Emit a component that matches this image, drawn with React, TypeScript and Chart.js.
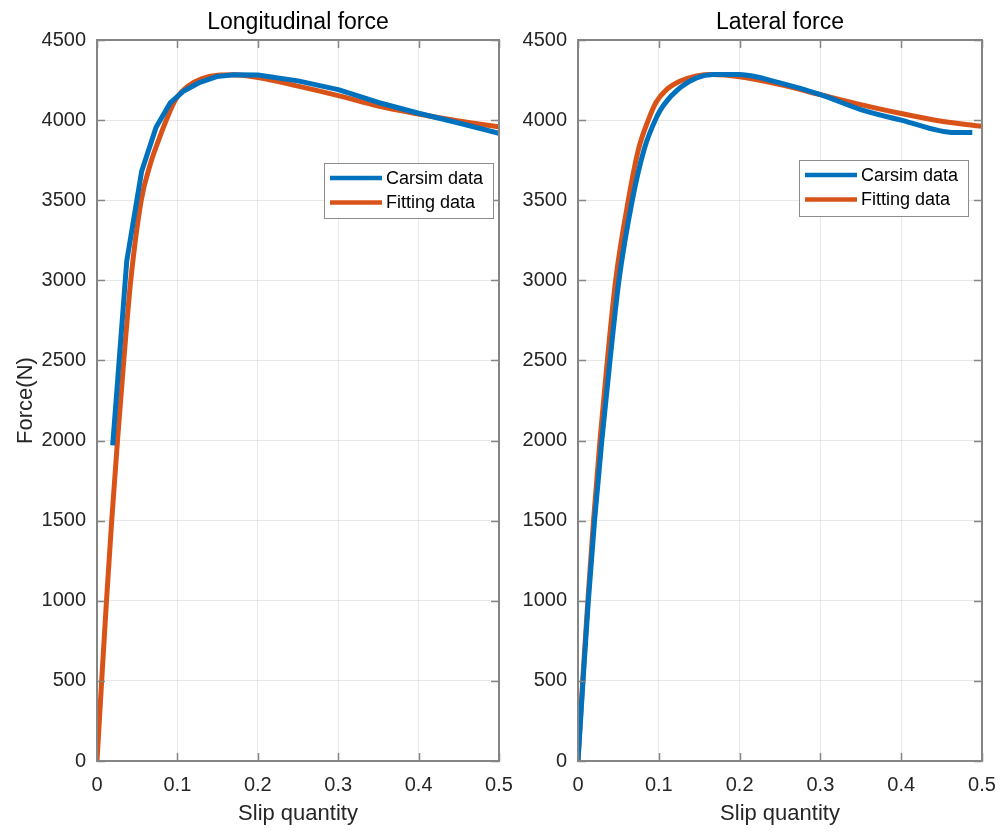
import React, { useEffect, useRef } from "react";
import { Chart, registerables } from "chart.js";

Chart.register(...registerables);

// Axis tick labels
const xTickLabels = ["0", "0.1", "0.2", "0.3", "0.4", "0.5"];
const yTickLabels = ["0", "500", "1000", "1500", "2000", "2500", "3000", "3500", "4000", "4500"];

// Longitudinal force: Carsim samples
const lonCarsimSlip = [0.0195, 0.037, 0.0555, 0.0735, 0.091, 0.108, 0.128, 0.149, 0.17, 0.2, 0.25, 0.3, 0.35, 0.4, 0.45, 0.5];
const lonCarsimForce = [1970, 3120, 3680, 3955, 4107, 4182, 4236, 4272, 4283, 4282, 4245, 4190, 4110, 4043, 3982, 3917];

// Longitudinal force: fitted curve
const lonFitSlip = [0, 0.0058, 0.0118, 0.0183, 0.0255, 0.0333, 0.042, 0.055, 0.066, 0.077, 0.087, 0.098, 0.114, 0.13, 0.15, 0.17, 0.2, 0.25, 0.3, 0.35, 0.4, 0.45, 0.5];
const lonFitForce = [0, 500, 1000, 1500, 2000, 2500, 3000, 3500, 3720, 3880, 4010, 4130, 4215, 4258, 4280, 4283, 4265, 4212, 4153, 4088, 4038, 3994, 3957];

// Lateral force: Carsim samples
const latCarsimSlip = [0, 0.0062, 0.0128, 0.0205, 0.0295, 0.0396, 0.0507, 0.0672, 0.082, 0.0974, 0.1054, 0.126, 0.1467, 0.167, 0.2, 0.25, 0.3, 0.35, 0.4, 0.466, 0.488];
const latCarsimForce = [0, 500, 1000, 1500, 2000, 2500, 3000, 3500, 3820, 4020, 4090, 4201, 4264, 4285, 4284, 4232, 4159, 4066, 4000, 3922, 3922];

// Lateral force: fitted curve
const latFitSlip = [0, 0.0058, 0.0122, 0.0192, 0.0272, 0.0363, 0.0466, 0.0623, 0.075, 0.087, 0.0965, 0.1096, 0.126, 0.1467, 0.167, 0.2, 0.25, 0.3, 0.35, 0.4, 0.45, 0.5];
const latFitForce = [0, 500, 1000, 1500, 2000, 2500, 3000, 3500, 3820, 4000, 4110, 4190, 4242, 4276, 4285, 4270, 4222, 4159, 4097, 4041, 3993, 3961];

const seriesNames = ["Carsim data", "Fitting data"];
const BLUE = "#0072BD";
const ORANGE = "#D95319";
const FONT = "'Liberation Sans', Arial, Helvetica, sans-serif";
const AXIS_COLOR = "#858585";

const toPoints = (xs: number[], ys: number[]) => xs.map((x, i) => ({ x, y: ys[i] }));

// MATLAB-style box with inward tick marks on all four sides
const framePlugin = {
  id: "frameBox",
  afterDatasetsDraw(chart: any) {
    const { ctx, chartArea, scales } = chart;
    const { left, right, top, bottom } = chartArea;
    const len = 8;
    ctx.save();
    ctx.strokeStyle = AXIS_COLOR;
    ctx.lineWidth = 1.5;
    ctx.beginPath();
    scales.x.ticks.forEach((t: any) => {
      const px = Math.round(scales.x.getPixelForValue(t.value)) + 0.5;
      ctx.moveTo(px, bottom);
      ctx.lineTo(px, bottom - len);
      ctx.moveTo(px, top);
      ctx.lineTo(px, top + len);
    });
    scales.y.ticks.forEach((t: any) => {
      const py = Math.round(scales.y.getPixelForValue(t.value)) + 0.5;
      ctx.moveTo(left, py);
      ctx.lineTo(left + len, py);
      ctx.moveTo(right, py);
      ctx.lineTo(right - len, py);
    });
    ctx.stroke();
    ctx.lineWidth = 2;
    ctx.strokeRect(left, top, right - left, bottom - top);
    ctx.restore();
  },
};

// Boxed legend placed inside the plot area
const boxLegendPlugin = {
  id: "boxLegend",
  afterDraw(chart: any, _args: any, opts: any) {
    const { ctx, chartArea } = chart;
    const bx = chartArea.right - opts.right - opts.width;
    const by = chartArea.top + opts.top;
    ctx.save();
    ctx.fillStyle = "#ffffff";
    ctx.fillRect(bx, by, opts.width, opts.height);
    ctx.strokeStyle = "#8c8c8c";
    ctx.lineWidth = 1;
    ctx.strokeRect(bx + 0.5, by + 0.5, opts.width, opts.height);
    ctx.font = `18px ${FONT}`;
    ctx.textBaseline = "middle";
    ctx.textAlign = "left";
    chart.data.datasets.forEach((ds: any, i: number) => {
      const rowY = by + 15 + i * 24.5;
      ctx.strokeStyle = ds.borderColor;
      ctx.lineWidth = 4.5;
      ctx.beginPath();
      ctx.moveTo(bx + 6, rowY);
      ctx.lineTo(bx + 58, rowY);
      ctx.stroke();
      ctx.fillStyle = "#000000";
      ctx.fillText(ds.label, bx + 62, rowY + 1);
    });
    ctx.restore();
  },
};

type PanelProps = {
  title: string;
  carsim: { x: number; y: number }[];
  fit: { x: number; y: number }[];
  carsimSmooth: boolean;
  yAxisWidth: number;
  yTitle?: string;
  padRight: number;
  legend: { right: number; top: number; width: number; height: number };
  width: number;
  left: number;
};

function Panel(props: PanelProps) {
  const ref = useRef<HTMLCanvasElement | null>(null);
  useEffect(() => {
    if (!ref.current) return;
    const chart = new Chart(ref.current, {
      type: "line",
      data: {
        datasets: [
          {
            label: seriesNames[0],
            data: props.carsim,
            borderColor: BLUE,
            backgroundColor: BLUE,
            borderWidth: 5,
            pointRadius: 0,
            cubicInterpolationMode: props.carsimSmooth ? "monotone" : "default",
            tension: 0,
            borderJoinStyle: "round",
          },
          {
            label: seriesNames[1],
            data: props.fit,
            borderColor: ORANGE,
            backgroundColor: ORANGE,
            borderWidth: 5,
            pointRadius: 0,
            cubicInterpolationMode: "monotone",
            borderJoinStyle: "round",
          },
        ],
      },
      options: {
        animation: false,
        responsive: false,
        devicePixelRatio: 1,
        layout: { padding: { left: 0, right: props.padRight, top: 0, bottom: 0 } },
        plugins: {
          legend: { display: false },
          tooltip: { enabled: false },
          title: {
            display: true,
            fullSize: false,
            text: props.title,
            color: "#000000",
            font: { family: FONT, size: 23, weight: "normal" },
            padding: { top: 9.2, bottom: 3.2 },
          },
          boxLegend: props.legend,
        } as any,
        scales: {
          x: {
            type: "linear",
            min: 0,
            max: 0.5,
            afterFit: (scale: any) => {
              scale.height = 71;
            },
            ticks: {
              stepSize: 0.1,
              maxRotation: 0,
              autoSkip: false,
              color: "#262626",
              font: { family: FONT, size: 20 },
              padding: 12,
              callback: (_v: any, i: number) => xTickLabels[i],
            },
            grid: { color: "rgba(0,0,0,0.09)", lineWidth: 1, drawTicks: false },
            border: { display: false },
            title: {
              display: true,
              text: "Slip quantity",
              color: "#262626",
              font: { family: FONT, size: 22 },
              padding: { top: 0, bottom: 5 },
            },
          },
          y: {
            type: "linear",
            min: 0,
            max: 4500,
            afterFit: (scale: any) => {
              scale.width = props.yAxisWidth;
            },
            ticks: {
              stepSize: 500,
              autoSkip: false,
              color: "#262626",
              font: { family: FONT, size: 20 },
              padding: 11,
              callback: (_v: any, i: number) => yTickLabels[i],
            },
            grid: { color: "rgba(0,0,0,0.09)", lineWidth: 1, drawTicks: false },
            border: { display: false },
            title: {
              display: !!props.yTitle,
              text: props.yTitle || "",
              color: "#262626",
              font: { family: FONT, size: 22 },
              padding: { top: 13, bottom: 0 },
            },
          },
        },
      } as any,
      plugins: [framePlugin, boxLegendPlugin],
    });
    return () => chart.destroy();
  }, []);
  return (
    <canvas
      ref={ref}
      width={props.width}
      height={832}
      style={{ position: "absolute", left: props.left, top: 0, width: props.width, height: 832 }}
    />
  );
}

export default function App() {
  return (
    <div style={{ position: "absolute", left: 0, top: 0, width: 1005, height: 832, background: "#ffffff", overflow: "hidden" }}>
      <Panel
        title="Longitudinal force"
        carsim={toPoints(lonCarsimSlip, lonCarsimForce)}
        fit={toPoints(lonFitSlip, lonFitForce)}
        carsimSmooth={false}
        yAxisWidth={97}
        yTitle="Force(N)"
        padRight={32}
        legend={{ right: 6, top: 123, width: 169, height: 55 }}
        width={531}
        left={0}
      />
      <Panel
        title="Lateral force"
        carsim={toPoints(latCarsimSlip, latCarsimForce)}
        fit={toPoints(latFitSlip, latFitForce)}
        carsimSmooth={true}
        yAxisWidth={78}
        padRight={32}
        legend={{ right: 14, top: 120, width: 169, height: 56 }}
        width={514}
        left={500}
      />
    </div>
  );
}
